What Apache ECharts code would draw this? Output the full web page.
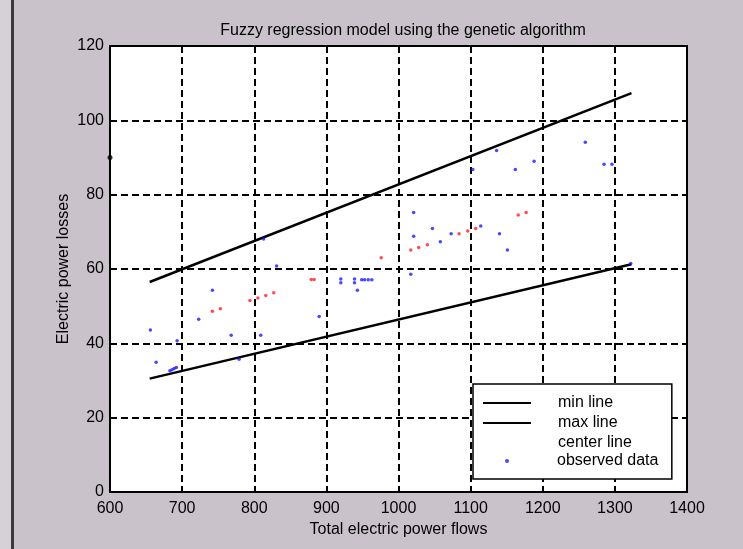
<!DOCTYPE html>
<html>
<head>
<meta charset="utf-8">
<script src="https://cdn.jsdelivr.net/npm/echarts@6/dist/echarts.min.js"></script>
<style>
  html, body { margin: 0; padding: 0; background: #cac2cb; }
  #chart { width: 743px; height: 549px; }
  /* dark frame edge on the left of the figure window */
  #edge { position: absolute; left: 0; top: 0; width: 11px; height: 549px; background: #d6d0d7; border-right: 3px solid #3a3a3a; }
</style>
</head>
<body>
<div id="edge"></div>
<div id="chart"></div>
<script>
// Fitted lines (endpoints)
const minLineX = [655, 1323];
const minLineY = [30.5, 61.3];
const maxLineX = [655, 1323];
const maxLineY = [56.5, 107.3];

// Red dots: centre-line values
const centerX = [742, 753, 794, 805, 816, 827, 879, 883, 976, 1017, 1028, 1040, 1084, 1096, 1107, 1166, 1177];
const centerY = [48.6, 49.3, 51.5, 52.2, 52.9, 53.6, 57.2, 57.2, 63.0, 65.1, 65.8, 66.5, 69.5, 70.2, 70.9, 74.5, 75.2];

// Blue dots: observed data
const obsX = [656, 664, 683, 686, 689, 692, 693, 723, 742, 768, 779, 809, 813, 831, 890,
  920, 920, 939, 939, 943, 949, 953, 958, 963, 1017, 1021, 1021, 1047, 1058, 1073,
  1103, 1114, 1136, 1140, 1151, 1162, 1188, 1259, 1285, 1296, 1322];
const obsY = [43.6, 34.9, 32.6, 32.9, 33.2, 33.5, 40.7, 46.5, 54.3, 42.2, 35.7, 42.2, 68.1, 60.8, 47.2,
  56.3, 57.3, 56.3, 57.3, 54.3, 57.1, 57.1, 57.1, 57.1, 58.6, 68.8, 75.2, 70.9, 67.3, 69.5,
  86.8, 71.6, 91.9, 69.5, 65.1, 86.8, 89.0, 94.1, 88.2, 88.2, 61.5];

// stray black marker sitting on the y axis
const strayX = [600];
const strayY = [90];

const xTicks = { min: 600, max: 1400, interval: 100 };
const yTicks = { min: 0, max: 120, interval: 20 };

const FONT = "'Liberation Sans', Arial, sans-serif";
const zip = (xs, ys) => xs.map((x, i) => [x, ys[i]]);
const plain = (v) => String(v);

const chart = echarts.init(document.getElementById('chart'), null, { renderer: 'canvas' });

chart.setOption({
  animation: false,
  backgroundColor: 'transparent',
  title: {
    text: 'Fuzzy regression model using the genetic algorithm',
    left: 398, top: 18, textAlign: 'center',
    textStyle: { color: '#000', fontSize: 16, fontWeight: 'normal', fontFamily: FONT }
  },
  grid: {
    left: 110, right: 56, top: 46, bottom: 57,
    show: true, backgroundColor: '#fff', borderColor: '#000', borderWidth: 2
  },
  legend: [
    {
      orient: 'vertical', left: 473, top: 384,
      data: [
        { name: 'min line', itemStyle: { opacity: 0 } },
        { name: 'max line', itemStyle: { opacity: 0 } },
        { name: 'center line', itemStyle: { opacity: 0 } }
      ],
      itemWidth: 48, itemHeight: 14, itemGap: 4,
      padding: [11, 40, 28, 9],
      backgroundColor: '#fff', borderColor: '#000', borderWidth: 1.5, borderRadius: 0,
      selectedMode: false,
      textStyle: { color: '#000', fontSize: 16, fontFamily: FONT, lineHeight: 14, padding: [0, 0, 0, 22] }
    },
    {
      orient: 'vertical', left: 505, top: 453,
      data: ['observed data'],
      icon: 'circle', itemWidth: 4, itemHeight: 4,
      padding: 0, selectedMode: false,
      textStyle: { color: '#000', fontSize: 16, fontFamily: FONT, lineHeight: 14, padding: [0, 0, 0, 43] }
    }
  ],
  xAxis: {
    type: 'value', min: xTicks.min, max: xTicks.max, interval: xTicks.interval,
    name: 'Total electric power flows', nameLocation: 'middle', nameGap: 30,
    nameTextStyle: { color: '#000', fontSize: 16, fontFamily: FONT },
    axisLine: { lineStyle: { color: '#000', width: 2 } },
    axisTick: { inside: true, length: 5, lineStyle: { color: '#000' } },
    axisLabel: { color: '#000', fontSize: 16, fontFamily: FONT, margin: 9, formatter: plain },
    splitLine: { show: true, lineStyle: { color: '#000', width: 2, type: [7, 4] } }
  },
  yAxis: {
    type: 'value', min: yTicks.min, max: yTicks.max, interval: yTicks.interval,
    name: 'Electric power losses', nameLocation: 'middle', nameGap: 38, nameMoveOverlap: false,
    nameTextStyle: { color: '#000', fontSize: 16, fontFamily: FONT },
    axisLine: { lineStyle: { color: '#000', width: 2 } },
    axisTick: { inside: true, length: 5, lineStyle: { color: '#000' } },
    axisLabel: { color: '#000', fontSize: 16, fontFamily: FONT, margin: 6, formatter: plain },
    splitLine: { show: true, lineStyle: { color: '#000', width: 2, type: [7, 4] } }
  },
  series: [
    {
      name: 'min line', type: 'line', data: zip(minLineX, minLineY),
      symbol: 'none', color: '#000', lineStyle: { color: '#000', width: 2.5 }, z: 3
    },
    {
      name: 'max line', type: 'line', data: zip(maxLineX, maxLineY),
      symbol: 'none', color: '#000', lineStyle: { color: '#000', width: 2.5 }, z: 3
    },
    {
      name: 'center line', type: 'scatter', data: zip(centerX, centerY),
      symbol: 'circle', symbolSize: 3.5, itemStyle: { color: '#ff2020' }, z: 4
    },
    {
      name: 'observed data', type: 'scatter', data: zip(obsX, obsY),
      symbol: 'circle', symbolSize: 3.5, itemStyle: { color: '#1a1aff' }, z: 4
    },
    {
      name: 'stray', type: 'scatter', data: zip(strayX, strayY),
      symbol: 'circle', symbolSize: 5, itemStyle: { color: '#000' }, z: 5
    }
  ]
});
</script>
</body>
</html>
